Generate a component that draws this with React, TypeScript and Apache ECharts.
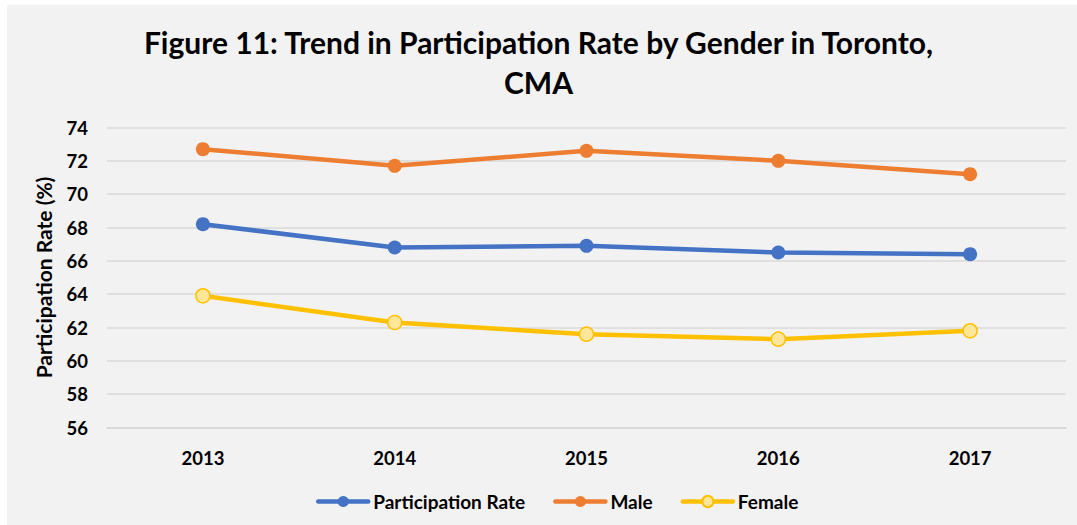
import React, { useEffect, useRef } from "react";
import * as echarts from "echarts";

const years = ["2013", "2014", "2015", "2016", "2017"];
const participationRate = [68.2, 66.8, 66.9, 66.5, 66.4];
const male = [72.7, 71.7, 72.6, 72.0, 71.2];
const female = [63.9, 62.3, 61.6, 61.3, 61.8];

const FONT = "Lato, 'Open Sans', sans-serif";

export default function App() {
  const ref = useRef<HTMLDivElement>(null);
  useEffect(() => {
    document.body.style.margin = "0";
    const chart = echarts.init(ref.current!, null, { renderer: "svg" });
    const lineSeries = (name: string, data: number[], color: string, fill: string) => ({
      name,
      type: "line",
      data,
      symbol: "circle",
      symbolSize: 14,
      lineStyle: { color, width: 4.5 },
      itemStyle: { color: fill, borderColor: color, borderWidth: fill === color ? 0 : 1.5 },
      emphasis: { disabled: true },
    });
    chart.setOption({
      animation: false,
      backgroundColor: "#ffffff",
      graphic: [
        {
          type: "rect",
          z: -10,
          shape: { x: 7, y: 5, width: 1070, height: 520 },
          style: { fill: "#f2f2f2" },
          silent: true,
        },
      ],
      title: {
        text: "Figure 11: Trend in Participation Rate by Gender in Toronto,\nCMA",
        left: "center",
        top: 17,
        textStyle: {
          fontFamily: FONT,
          fontWeight: "bold",
          fontSize: 30,
          lineHeight: 40,
          color: "#000",
        },
      },
      legend: {
        bottom: 9,
        left: 311,
        itemWidth: 50,
        itemHeight: 14,
        itemGap: 28,
        lineStyle: { width: 4.5, cap: "round" },
        textStyle: { fontFamily: FONT, fontWeight: "bold", fontSize: 19, color: "#000" },
        data: ["Participation Rate", "Male", "Female"],
      },
      grid: { left: 107, right: 11, top: 127.5, bottom: 97.5, containLabel: false },
      xAxis: {
        type: "category",
        data: years,
        boundaryGap: true,
        axisLine: { show: true, lineStyle: { color: "#d9d9d9", width: 1.5 } },
        axisTick: { show: false },
        axisLabel: { fontFamily: FONT, fontWeight: "bold", fontSize: 18.5, color: "#000", margin: 21 },
      },
      yAxis: {
        type: "value",
        min: 56,
        max: 74,
        interval: 2,
        name: "Participation Rate (%)",
        nameLocation: "middle",
        nameRotate: 90,
        nameGap: 53,
        nameTextStyle: { fontFamily: FONT, fontWeight: "bold", fontSize: 21, color: "#000" },
        axisLine: { show: false },
        axisTick: { show: false },
        axisLabel: { fontFamily: FONT, fontWeight: "bold", fontSize: 18.5, color: "#000", margin: 19 },
        splitLine: { lineStyle: { color: "#d9d9d9", width: 1.5 } },
      },
      series: [
        lineSeries("Participation Rate", participationRate, "#4472c4", "#4472c4"),
        lineSeries("Male", male, "#ed7d31", "#ed7d31"),
        lineSeries("Female", female, "#ffc000", "#ffe699"),
      ],
    });
    return () => chart.dispose();
  }, []);
  return <div ref={ref} style={{ width: 1077, height: 525 }} />;
}
